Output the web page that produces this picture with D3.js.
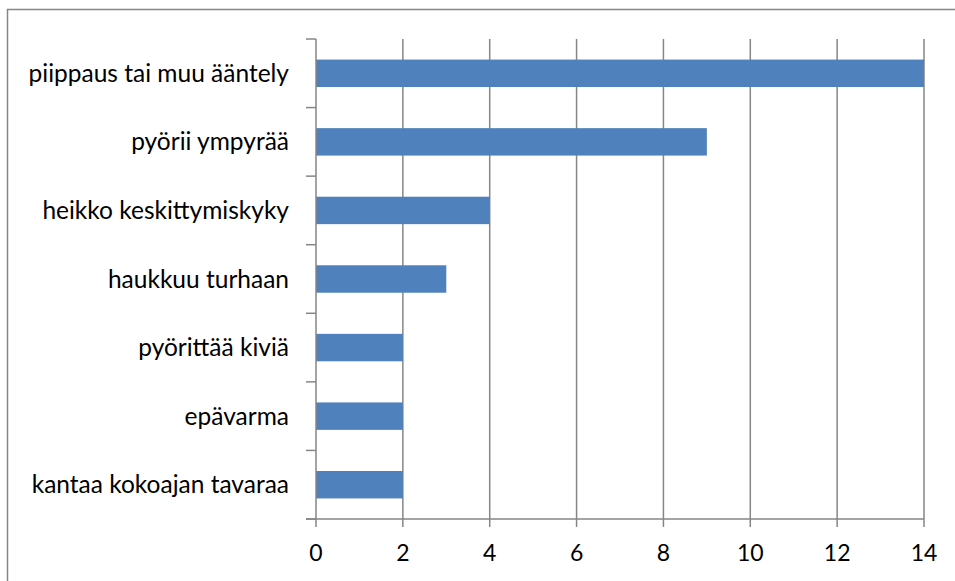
<!DOCTYPE html>
<html><head><meta charset="utf-8">
<script src="https://cdn.jsdelivr.net/npm/d3@7"></script>
<style>body{margin:0;background:#fff}svg{display:block}</style>
</head><body>
<svg id="c" width="955" height="581"></svg>
<script>
const categories = ["piippaus tai muu ääntely","pyörii ympyrää","heikko keskittymiskyky","haukkuu turhaan","pyörittää kiviä","epävarma","kantaa kokoajan tavaraa"];
const values = [14, 9, 4, 3, 2, 2, 2];
const xTicks = [0, 2, 4, 6, 8, 10, 12, 14];

(function () {
const svg = d3.select("#c");
const pl = 316, pr = 924, pt = 39, pb = 519;
const x = d3.scaleLinear().domain([0, 14]).range([pl, pr]);
const y = d3.scaleBand().domain(categories).range([pt, pb]).paddingInner(0.6).paddingOuter(0.3);
const font = "Lato, 'Open Sans', sans-serif";
const grey = "#868686";

svg.append("rect").attr("x", 7.5).attr("y", 9.5).attr("width", 1000).attr("height", 1000)
  .attr("fill", "none").attr("stroke", grey).attr("stroke-width", 1.5);

svg.append("g").selectAll("line").data(xTicks.slice(1)).join("line")
  .attr("x1", d => x(d)).attr("x2", d => x(d)).attr("y1", pt).attr("y2", pb)
  .attr("stroke", grey).attr("stroke-width", 1.5);

svg.append("g").selectAll("rect").data(values).join("rect")
  .attr("x", x(0)).attr("y", (d, i) => y(categories[i]))
  .attr("width", d => x(d) - x(0)).attr("height", y.bandwidth())
  .attr("fill", "#4F81BD");

const step = (pb - pt) / categories.length;
const ya = svg.append("g");
ya.append("line").attr("x1", pl).attr("x2", pl).attr("y1", pt).attr("y2", pb).attr("stroke", grey).attr("stroke-width", 1.5);
ya.selectAll("line.t").data(d3.range(categories.length + 1)).join("line").attr("class", "t")
  .attr("x1", pl - 10).attr("x2", pl).attr("y1", i => pt + i * step).attr("y2", i => pt + i * step)
  .attr("stroke", grey).attr("stroke-width", 1.5);
ya.selectAll("text").data(categories).join("text")
  .attr("x", 289).attr("y", d => y(d) + y.bandwidth() / 2).attr("dy", "0.35em")
  .attr("text-anchor", "end").attr("font-family", font).attr("font-size", 24.5).attr("fill", "#000")
  .text(d => d);

const xa = svg.append("g");
xa.append("line").attr("x1", pl - 10).attr("x2", pr).attr("y1", pb).attr("y2", pb).attr("stroke", grey).attr("stroke-width", 1.5);
xa.selectAll("line.t").data(xTicks).join("line").attr("class", "t")
  .attr("x1", d => x(d)).attr("x2", d => x(d)).attr("y1", pb).attr("y2", pb + 8)
  .attr("stroke", grey).attr("stroke-width", 1.5);
xa.selectAll("text").data(xTicks).join("text")
  .attr("x", d => x(d)).attr("y", 561).attr("text-anchor", "middle")
  .attr("font-family", font).attr("font-size", 23).attr("fill", "#000").text(d => d);
})();
</script>
</body></html>
